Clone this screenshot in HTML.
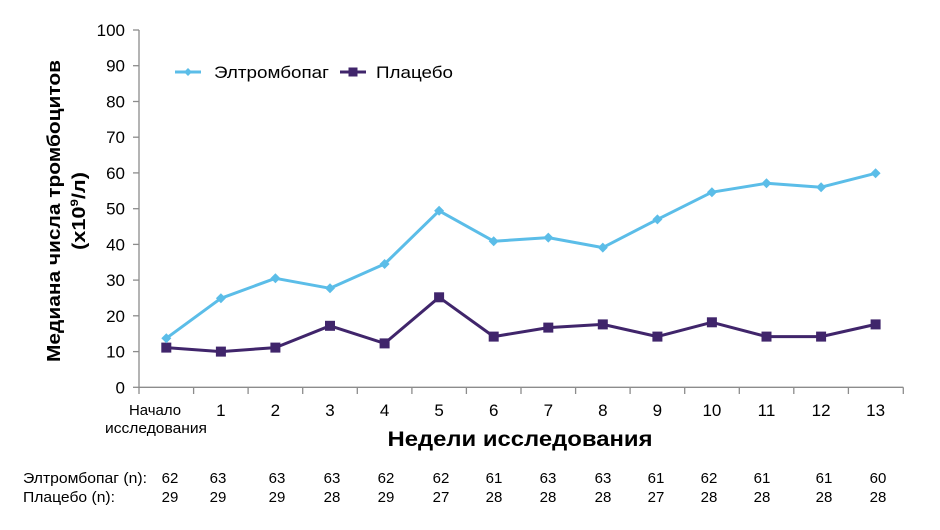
<!DOCTYPE html>
<html>
<head>
<meta charset="utf-8">
<style>
html,body{margin:0;padding:0;background:#fff;}
svg{display:block;}
text{font-family:"Liberation Sans",Arial,sans-serif;fill:#000;}
</style>
</head>
<body>
<svg width="940" height="530" viewBox="0 0 940 530" xmlns="http://www.w3.org/2000/svg">
<rect width="940" height="530" fill="#fff"/>
<!-- Y axis -->
<g stroke="#8c8c8c" stroke-width="1.3" fill="none">
<line x1="139" y1="30" x2="139" y2="387.3"/>
<line x1="133" y1="30" x2="139" y2="30"/>
<line x1="133" y1="65.7" x2="139" y2="65.7"/>
<line x1="133" y1="101.5" x2="139" y2="101.5"/>
<line x1="133" y1="137.2" x2="139" y2="137.2"/>
<line x1="133" y1="172.9" x2="139" y2="172.9"/>
<line x1="133" y1="208.7" x2="139" y2="208.7"/>
<line x1="133" y1="244.4" x2="139" y2="244.4"/>
<line x1="133" y1="280.1" x2="139" y2="280.1"/>
<line x1="133" y1="315.8" x2="139" y2="315.8"/>
<line x1="133" y1="351.6" x2="139" y2="351.6"/>
<line x1="133" y1="387.3" x2="139" y2="387.3"/>
<!-- X axis -->
<line x1="139" y1="387.3" x2="903.3" y2="387.3"/>
<line x1="139" y1="387.3" x2="139" y2="394"/>
<line x1="193.6" y1="387.3" x2="193.6" y2="394"/>
<line x1="248.1" y1="387.3" x2="248.1" y2="394"/>
<line x1="302.7" y1="387.3" x2="302.7" y2="394"/>
<line x1="357.3" y1="387.3" x2="357.3" y2="394"/>
<line x1="411.9" y1="387.3" x2="411.9" y2="394"/>
<line x1="466.4" y1="387.3" x2="466.4" y2="394"/>
<line x1="521" y1="387.3" x2="521" y2="394"/>
<line x1="575.6" y1="387.3" x2="575.6" y2="394"/>
<line x1="630.1" y1="387.3" x2="630.1" y2="394"/>
<line x1="684.7" y1="387.3" x2="684.7" y2="394"/>
<line x1="739.3" y1="387.3" x2="739.3" y2="394"/>
<line x1="793.8" y1="387.3" x2="793.8" y2="394"/>
<line x1="848.4" y1="387.3" x2="848.4" y2="394"/>
<line x1="903.3" y1="387.3" x2="903.3" y2="394"/>
</g>
<!-- Y tick labels -->
<g font-size="17" text-anchor="end">
<text x="125" y="36">100</text>
<text x="125" y="71.7">90</text>
<text x="125" y="107.5">80</text>
<text x="125" y="143.2">70</text>
<text x="125" y="178.9">60</text>
<text x="125" y="214.7">50</text>
<text x="125" y="250.4">40</text>
<text x="125" y="286.1">30</text>
<text x="125" y="321.8">20</text>
<text x="125" y="357.6">10</text>
<text x="125" y="393.3">0</text>
</g>
<!-- Y axis title -->
<g font-size="18" font-weight="bold" text-anchor="middle">
<text transform="translate(60,211) rotate(-90)" textLength="302" lengthAdjust="spacingAndGlyphs">Медиана числа тромбоцитов</text>
<text transform="translate(85,211) rotate(-90)" textLength="78" lengthAdjust="spacingAndGlyphs">(x10<tspan font-size="11" dy="-7">9</tspan><tspan dy="7">/л)</tspan></text>
</g>
<!-- X tick labels -->
<g font-size="17" text-anchor="middle">
<text x="220.9" y="416">1</text>
<text x="275.4" y="416">2</text>
<text x="330" y="416">3</text>
<text x="384.6" y="416">4</text>
<text x="439.1" y="416">5</text>
<text x="493.7" y="416">6</text>
<text x="548.3" y="416">7</text>
<text x="602.8" y="416">8</text>
<text x="657.4" y="416">9</text>
<text x="711.9" y="416">10</text>
<text x="766.5" y="416">11</text>
<text x="821.1" y="416">12</text>
<text x="875.6" y="416">13</text>
</g>
<g font-size="14.5" text-anchor="middle">
<text x="155" y="415" textLength="52" lengthAdjust="spacingAndGlyphs">Начало</text>
<text x="156" y="433" textLength="102" lengthAdjust="spacingAndGlyphs">исследования</text>
</g>
<text x="520" y="446" font-size="21" font-weight="bold" text-anchor="middle" textLength="265" lengthAdjust="spacingAndGlyphs">Недели исследования</text>
<!-- Legend -->
<line x1="175" y1="72" x2="201" y2="72" stroke="#5bbde8" stroke-width="3"/>
<path d="M188 68 L192 72 L188 76 L184 72 Z" fill="#5bbde8"/>
<text x="214" y="78" font-size="17" textLength="115" lengthAdjust="spacingAndGlyphs">Элтромбопаг</text>
<line x1="340" y1="72" x2="366" y2="72" stroke="#40256b" stroke-width="3"/>
<rect x="348.5" y="67.5" width="9" height="9" fill="#40256b"/>
<text x="376" y="78" font-size="17" textLength="77" lengthAdjust="spacingAndGlyphs">Плацебо</text>
<!-- Series: Placebo -->
<polyline fill="none" stroke="#40256b" stroke-width="3" stroke-linejoin="round"
points="166.3,347.6 220.9,351.6 275.4,347.6 330,325.8 384.6,343.4 439.1,297.3 493.7,336.6 548.3,327.6 602.8,324.4 657.4,336.6 711.9,322.3 766.5,336.6 821.1,336.6 875.6,324.4"/>
<g fill="#40256b">
<rect x="161.3" y="342.6" width="10" height="10"/>
<rect x="215.9" y="346.6" width="10" height="10"/>
<rect x="270.4" y="342.6" width="10" height="10"/>
<rect x="325" y="320.8" width="10" height="10"/>
<rect x="379.6" y="338.4" width="10" height="10"/>
<rect x="434.1" y="292.3" width="10" height="10"/>
<rect x="488.7" y="331.6" width="10" height="10"/>
<rect x="543.3" y="322.6" width="10" height="10"/>
<rect x="597.8" y="319.4" width="10" height="10"/>
<rect x="652.4" y="331.6" width="10" height="10"/>
<rect x="706.9" y="317.3" width="10" height="10"/>
<rect x="761.5" y="331.6" width="10" height="10"/>
<rect x="816.1" y="331.6" width="10" height="10"/>
<rect x="870.6" y="319.4" width="10" height="10"/>
</g>
<!-- Series: Eltrombopag -->
<polyline fill="none" stroke="#5bbde8" stroke-width="3" stroke-linejoin="round"
points="166.3,338.3 220.9,298.3 275.4,278.3 330,288.3 384.6,264 439.1,210.8 493.7,241.2 548.3,237.6 602.8,247.6 657.4,219.4 711.9,192.2 766.5,183.3 821.1,187.2 875.6,173.3"/>
<g fill="#5bbde8">
<path d="M166.3 333.3 L171.3 338.3 L166.3 343.3 L161.3 338.3 Z"/>
<path d="M220.9 293.3 L225.9 298.3 L220.9 303.3 L215.9 298.3 Z"/>
<path d="M275.4 273.3 L280.4 278.3 L275.4 283.3 L270.4 278.3 Z"/>
<path d="M330 283.3 L335 288.3 L330 293.3 L325 288.3 Z"/>
<path d="M384.6 259 L389.6 264 L384.6 269 L379.6 264 Z"/>
<path d="M439.1 205.8 L444.1 210.8 L439.1 215.8 L434.1 210.8 Z"/>
<path d="M493.7 236.2 L498.7 241.2 L493.7 246.2 L488.7 241.2 Z"/>
<path d="M548.3 232.6 L553.3 237.6 L548.3 242.6 L543.3 237.6 Z"/>
<path d="M602.8 242.6 L607.8 247.6 L602.8 252.6 L597.8 247.6 Z"/>
<path d="M657.4 214.4 L662.4 219.4 L657.4 224.4 L652.4 219.4 Z"/>
<path d="M711.9 187.2 L716.9 192.2 L711.9 197.2 L706.9 192.2 Z"/>
<path d="M766.5 178.3 L771.5 183.3 L766.5 188.3 L761.5 183.3 Z"/>
<path d="M821.1 182.2 L826.1 187.2 L821.1 192.2 L816.1 187.2 Z"/>
<path d="M875.6 168.3 L880.6 173.3 L875.6 178.3 L870.6 173.3 Z"/>
</g>
<!-- n table -->
<g font-size="15">
<text x="23" y="483" textLength="124" lengthAdjust="spacingAndGlyphs">Элтромбопаг (n):</text>
<text x="23" y="502" textLength="92" lengthAdjust="spacingAndGlyphs">Плацебо (n):</text>
</g>
<g font-size="15" text-anchor="middle">
<text x="170" y="483">62</text>
<text x="218" y="483">63</text>
<text x="277" y="483">63</text>
<text x="332" y="483">63</text>
<text x="386" y="483">62</text>
<text x="441" y="483">62</text>
<text x="494" y="483">61</text>
<text x="548" y="483">63</text>
<text x="603" y="483">63</text>
<text x="656" y="483">61</text>
<text x="709" y="483">62</text>
<text x="762" y="483">61</text>
<text x="824" y="483">61</text>
<text x="878" y="483">60</text>
<text x="170" y="502">29</text>
<text x="218" y="502">29</text>
<text x="277" y="502">29</text>
<text x="332" y="502">28</text>
<text x="386" y="502">29</text>
<text x="441" y="502">27</text>
<text x="494" y="502">28</text>
<text x="548" y="502">28</text>
<text x="603" y="502">28</text>
<text x="656" y="502">27</text>
<text x="709" y="502">28</text>
<text x="762" y="502">28</text>
<text x="824" y="502">28</text>
<text x="878" y="502">28</text>
</g>
</svg>
</body>
</html>
